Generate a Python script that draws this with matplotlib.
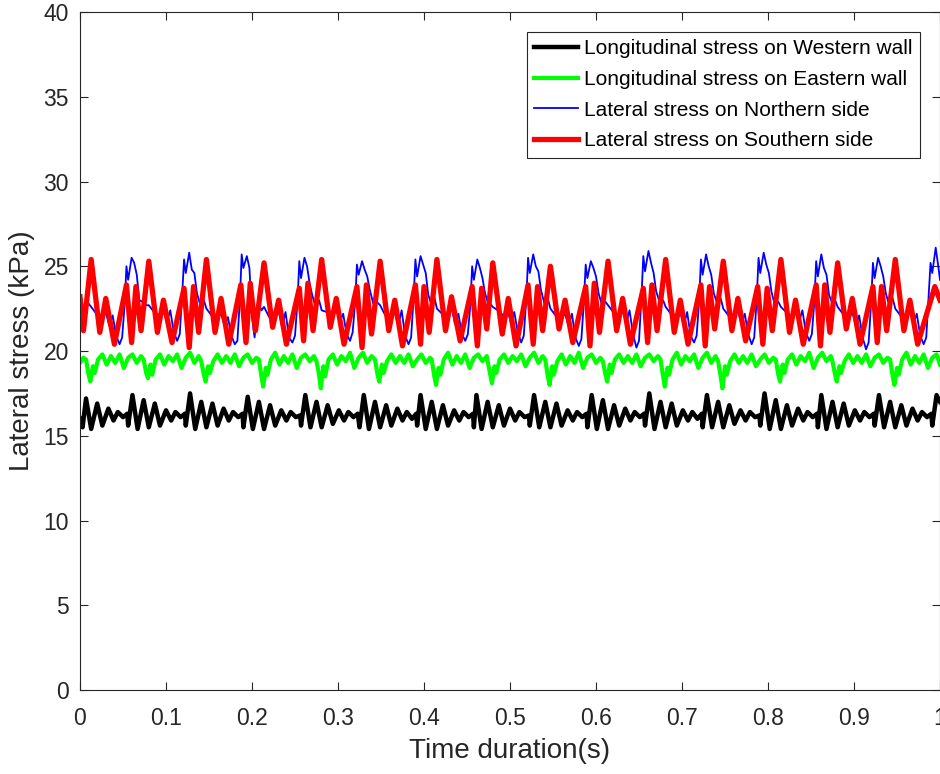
import numpy as np
import matplotlib
matplotlib.use("Agg")
import matplotlib.pyplot as plt

plt.rcParams['font.family'] = ['Liberation Sans', 'DejaVu Sans']

### 0. Data (time in ms, stress in kPa)
black_ms = [0, 3, 7, 13, 20, 26, 33, 39, 44, 50, 55,
            56, 61, 67, 74, 80, 87, 93, 100, 106, 111, 117, 122,
            123, 128, 134, 141, 147, 154, 160, 167, 173, 178, 184, 189,
            190, 195, 201, 208, 214, 221, 227, 234, 240, 245, 251, 256,
            257, 262, 268, 275, 281, 288, 294, 301, 307, 312, 318, 323,
            325, 330, 336, 343, 349, 356, 362, 369, 375, 380, 386, 391,
            392, 396, 402, 409, 415, 422, 428, 435, 441, 446, 452, 457,
            458, 461, 467, 474, 480, 487, 493, 500, 506, 511, 517, 522,
            523, 528, 534, 541, 547, 554, 560, 567, 573, 578, 584, 589,
            590, 595, 601, 608, 614, 621, 627, 634, 640, 645, 651, 656,
            657, 662, 668, 675, 681, 688, 694, 701, 707, 712, 718, 723,
            724, 729, 735, 742, 748, 755, 761, 768, 774, 779, 785, 790,
            791, 796, 802, 809, 815, 822, 828, 835, 841, 846, 852, 857,
            858, 862, 868, 875, 881, 888, 894, 901, 907, 912, 918, 923,
            924, 929, 935, 942, 948, 955, 961, 968, 974, 979, 985, 990,
            991, 996, 1000]
black_kpa = [16.0, 15.5, 17.2, 15.4, 16.9, 15.6, 16.6, 15.9, 16.4, 16.1, 16.3,
             15.6, 17.4, 15.4, 17.1, 15.5, 16.9, 15.6, 16.5, 15.9, 16.4, 16.1, 16.3,
             15.6, 17.5, 15.4, 17.0, 15.5, 16.9, 15.6, 16.6, 15.9, 16.4, 16.1, 16.3,
             15.5, 17.3, 15.4, 17.0, 15.4, 16.8, 15.6, 16.5, 15.9, 16.4, 16.1, 16.2,
             15.6, 17.4, 15.5, 17.0, 15.5, 16.8, 15.7, 16.5, 15.9, 16.4, 16.1, 16.3,
             15.5, 17.4, 15.4, 17.0, 15.5, 16.8, 15.6, 16.6, 15.9, 16.4, 16.0, 16.3,
             15.6, 17.4, 15.4, 17.0, 15.4, 16.8, 15.6, 16.5, 15.9, 16.4, 16.1, 16.3,
             15.5, 17.4, 15.4, 17.0, 15.5, 16.8, 15.6, 16.6, 15.9, 16.4, 16.1, 16.2,
             15.6, 17.4, 15.5, 17.0, 15.5, 16.9, 15.6, 16.5, 15.9, 16.4, 16.1, 16.3,
             15.5, 17.4, 15.4, 17.1, 15.4, 16.8, 15.6, 16.6, 15.9, 16.4, 16.1, 16.3,
             15.6, 17.5, 15.4, 17.0, 15.5, 16.9, 15.6, 16.5, 15.9, 16.4, 16.0, 16.3,
             15.5, 17.4, 15.5, 17.0, 15.5, 16.8, 15.7, 16.5, 15.9, 16.4, 16.1, 16.2,
             15.6, 17.5, 15.4, 17.1, 15.4, 16.8, 15.6, 16.6, 15.9, 16.4, 16.1, 16.3,
             15.5, 17.4, 15.4, 17.0, 15.5, 16.9, 15.6, 16.5, 15.9, 16.4, 16.1, 16.3,
             15.6, 17.4, 15.5, 17.0, 15.5, 16.8, 15.6, 16.6, 15.9, 16.4, 16.1, 16.3,
             15.6, 17.4, 17.0]

green_ms = [0, 4,
            7, 10, 12, 15, 17, 21, 26, 31, 36, 41, 46, 51, 56, 61, 66, 71,
            74, 77, 79, 82, 84, 88, 93, 98, 103, 108, 113, 118, 123, 128, 133, 138,
            141, 144, 146, 149, 151, 155, 160, 165, 170, 175, 180, 185, 190, 195, 200, 205,
            208, 211, 213, 216, 218, 222, 227, 232, 237, 242, 247, 252, 257, 262, 267, 272,
            275, 278, 280, 283, 285, 289, 294, 299, 304, 309, 314, 319, 324, 329, 334, 339,
            343, 346, 348, 351, 353, 357, 362, 367, 372, 377, 382, 387, 392, 397, 402, 407,
            409, 412, 414, 417, 419, 423, 428, 433, 438, 443, 448, 453, 458, 463, 468, 473,
            474, 477, 479, 482, 484, 488, 493, 498, 503, 508, 513, 518, 523, 528, 533, 538,
            541, 544, 546, 549, 551, 555, 560, 565, 570, 575, 580, 585, 590, 595, 600, 605,
            608, 611, 613, 616, 618, 622, 627, 632, 637, 642, 647, 652, 657, 662, 667, 672,
            675, 678, 680, 683, 685, 689, 694, 699, 704, 709, 714, 719, 724, 729, 734, 739,
            742, 745, 747, 750, 752, 756, 761, 766, 771, 776, 781, 786, 791, 796, 801, 806,
            809, 812, 814, 817, 819, 823, 828, 833, 838, 843, 848, 853, 858, 863, 868, 873,
            875, 878, 880, 883, 885, 889, 894, 899, 904, 909, 914, 919, 924, 929, 934, 939,
            942, 945, 947, 950, 952, 956, 961, 966, 971, 976, 981, 986, 991, 996, 1000]
green_kpa = [19.3, 19.6,
             19.5, 18.6, 18.2, 19.1, 18.7, 19.5, 19.8, 19.2, 19.7, 19.3, 19.8, 19.0, 19.6, 19.8, 19.3, 19.7,
             19.5, 18.7, 18.4, 19.2, 18.6, 19.5, 19.8, 19.2, 19.7, 19.4, 19.8, 19.0, 19.6, 19.9, 19.3, 19.7,
             19.4, 18.6, 18.2, 19.1, 18.7, 19.4, 19.8, 19.3, 19.7, 19.3, 19.8, 19.1, 19.6, 19.8, 19.3, 19.6,
             19.5, 18.5, 17.9, 19.0, 18.6, 19.5, 19.9, 19.2, 19.7, 19.3, 19.8, 19.0, 19.6, 19.8, 19.4, 19.7,
             19.4, 18.6, 17.8, 19.1, 18.5, 19.5, 19.8, 19.2, 19.7, 19.4, 19.9, 19.0, 19.6, 19.9, 19.3, 19.7,
             19.5, 18.6, 18.2, 19.2, 18.7, 19.4, 19.8, 19.3, 19.7, 19.3, 19.8, 19.1, 19.5, 19.8, 19.3, 19.6,
             19.5, 18.5, 18.0, 19.0, 18.6, 19.5, 19.9, 19.2, 19.7, 19.3, 19.8, 19.0, 19.6, 19.8, 19.4, 19.7,
             19.4, 18.6, 18.1, 19.1, 18.7, 19.5, 19.8, 19.3, 19.7, 19.4, 19.8, 19.1, 19.6, 19.9, 19.3, 19.7,
             19.5, 18.5, 18.0, 19.1, 18.6, 19.4, 19.8, 19.2, 19.7, 19.3, 19.9, 19.0, 19.6, 19.8, 19.3, 19.6,
             19.4, 18.6, 18.2, 19.2, 18.7, 19.5, 19.8, 19.3, 19.7, 19.3, 19.8, 19.1, 19.6, 19.8, 19.4, 19.7,
             19.5, 18.5, 17.9, 19.0, 18.6, 19.5, 19.9, 19.2, 19.7, 19.4, 19.8, 19.0, 19.6, 19.9, 19.3, 19.7,
             19.4, 18.5, 17.8, 19.1, 18.6, 19.4, 19.8, 19.3, 19.7, 19.3, 19.8, 19.1, 19.5, 19.8, 19.3, 19.6,
             19.5, 18.6, 18.2, 19.2, 18.7, 19.5, 19.8, 19.2, 19.7, 19.4, 19.9, 19.0, 19.6, 19.9, 19.4, 19.7,
             19.4, 18.6, 18.2, 19.1, 18.7, 19.4, 19.8, 19.3, 19.7, 19.3, 19.8, 19.1, 19.6, 19.8, 19.3, 19.6,
             19.5, 18.5, 18.0, 19.0, 18.6, 19.5, 19.9, 19.2, 19.7, 19.3, 19.8, 19.0, 19.6, 19.8, 19.2]

blue_ms = [0, 3, 7,
           13, 19, 25, 30, 34, 38, 42, 46, 49, 52, 54, 56, 60, 63, 66, 69, 73, 77,
           80, 86, 92, 97, 101, 105, 109, 113, 116, 119, 121, 123, 127, 130, 133, 136, 140, 144,
           147, 153, 159, 164, 168, 172, 176, 180, 183, 186, 188, 190, 194, 197, 200, 203, 207, 211,
           214, 220, 226, 231, 235, 239, 243, 247, 250, 253, 255, 257, 261, 264, 267, 270, 274, 278,
           281, 287, 293, 298, 302, 306, 310, 314, 317, 320, 322, 324, 328, 331, 334, 337, 341, 345,
           349, 355, 361, 366, 370, 374, 378, 382, 385, 388, 390, 392, 396, 399, 402, 405, 409, 412,
           415, 421, 427, 432, 436, 440, 444, 448, 451, 454, 456, 458, 462, 465, 468, 471, 474, 477,
           480, 486, 492, 497, 501, 505, 509, 513, 516, 519, 521, 523, 527, 530, 533, 536, 540, 544,
           547, 553, 559, 564, 568, 572, 576, 580, 583, 586, 588, 590, 594, 597, 600, 603, 607, 611,
           614, 620, 626, 631, 635, 639, 643, 647, 650, 653, 655, 657, 661, 664, 667, 670, 674, 678,
           681, 687, 693, 698, 702, 706, 710, 714, 717, 720, 722, 724, 728, 731, 734, 737, 741, 745,
           748, 754, 760, 765, 769, 773, 777, 781, 784, 787, 789, 791, 795, 798, 801, 804, 808, 812,
           815, 821, 827, 832, 836, 840, 844, 848, 851, 854, 856, 858, 862, 865, 868, 871, 875, 878,
           881, 887, 893, 898, 902, 906, 910, 914, 917, 920, 922, 924, 928, 931, 934, 937, 941, 945,
           948, 954, 960, 965, 969, 973, 977, 981, 984, 987, 989, 991, 995, 998, 1000]
blue_kpa = [22.8, 22.4, 23.0,
            22.6, 22.2, 21.8, 22.3, 21.5, 22.1, 20.9, 20.4, 20.8, 22.8, 25.0, 24.2, 25.5, 25.2, 24.5, 23.0, 22.9, 22.7,
            22.7, 22.3, 22.1, 22.5, 21.7, 22.4, 21.1, 20.6, 21.0, 23.5, 25.4, 24.6, 25.8, 24.8, 24.6, 23.4, 22.7, 23.0,
            22.5, 22.1, 21.9, 22.2, 21.5, 22.0, 20.9, 20.4, 20.6, 23.1, 25.7, 24.9, 25.6, 24.9, 22.0, 20.8, 22.9, 22.4,
            22.6, 22.0, 22.2, 22.4, 21.4, 22.3, 20.8, 20.5, 20.9, 23.0, 25.3, 24.3, 25.5, 25.0, 24.0, 23.3, 22.6, 23.0,
            22.4, 22.3, 21.9, 22.5, 21.7, 22.2, 21.0, 20.6, 21.1, 22.9, 25.1, 24.5, 25.3, 24.8, 24.4, 23.6, 22.8, 22.9,
            22.7, 22.1, 22.0, 22.3, 21.5, 22.4, 20.9, 20.4, 20.8, 23.2, 25.4, 24.4, 25.6, 25.1, 24.6, 23.3, 22.7, 23.2,
            22.5, 22.2, 21.8, 22.6, 21.6, 22.2, 21.0, 20.6, 21.0, 22.8, 25.0, 24.2, 25.4, 24.9, 24.3, 23.4, 22.9, 22.8,
            22.6, 22.4, 22.1, 22.4, 21.7, 22.3, 21.1, 20.5, 20.9, 23.1, 25.5, 24.6, 25.7, 25.0, 24.7, 23.6, 22.8, 23.1,
            22.5, 22.1, 21.9, 22.2, 21.5, 22.2, 20.8, 20.3, 20.7, 23.0, 25.1, 24.3, 25.3, 24.9, 24.4, 23.4, 22.7, 22.9,
            22.7, 22.3, 22.0, 22.5, 21.6, 22.4, 21.0, 20.2, 20.6, 23.3, 25.6, 24.7, 25.9, 25.2, 24.6, 23.5, 22.9, 23.0,
            22.6, 22.2, 22.1, 22.3, 21.5, 22.3, 20.9, 20.5, 20.9, 23.0, 25.4, 24.5, 25.7, 25.0, 24.5, 23.4, 22.8, 23.1,
            22.5, 22.1, 21.9, 22.4, 21.6, 22.2, 21.0, 20.4, 20.8, 23.2, 25.5, 24.6, 25.8, 25.1, 24.6, 23.5, 22.7, 22.9,
            22.6, 22.3, 22.0, 22.5, 21.7, 22.4, 21.1, 20.6, 21.0, 23.0, 25.3, 24.4, 25.7, 24.9, 24.5, 23.3, 22.8, 23.0,
            22.6, 22.2, 21.8, 22.3, 21.5, 22.1, 20.8, 20.1, 20.5, 22.9, 25.2, 24.3, 25.5, 25.0, 24.4, 23.4, 22.7, 23.1,
            22.5, 22.1, 21.9, 22.4, 21.6, 22.2, 20.9, 20.4, 20.8, 23.4, 25.2, 24.6, 26.1, 25.0, 24.2]

red_ms = [0, 4, 13, 23, 30, 40, 54, 60, 65, 71,
          80, 90, 97, 107, 121, 127, 132, 138,
          147, 157, 164, 173, 187, 193, 198, 204,
          214, 224, 231, 240, 255, 260, 265, 271,
          281, 291, 298, 307, 322, 328, 333, 339,
          349, 359, 366, 375, 390, 396, 400, 406,
          415, 425, 432, 442, 456, 462, 467, 473,
          480, 491, 498, 507, 521, 527, 532, 538,
          547, 557, 564, 573, 588, 593, 598, 604,
          614, 624, 631, 640, 655, 660, 665, 671,
          681, 691, 698, 707, 722, 727, 732, 738,
          748, 758, 765, 774, 788, 794, 799, 805,
          815, 825, 832, 841, 856, 861, 866, 872,
          881, 891, 898, 907, 922, 927, 932, 938,
          948, 958, 965, 974, 994, 1000]
red_kpa = [23.2, 21.2, 25.4, 21.1, 23.1, 20.4, 23.9, 20.5, 23.8, 21.2,
           25.3, 21.1, 23.0, 20.5, 23.7, 20.2, 23.8, 21.1,
           25.4, 21.1, 23.1, 20.4, 23.9, 20.5, 24.0, 21.2,
           25.2, 21.4, 23.0, 20.4, 23.7, 20.6, 24.0, 21.2,
           25.4, 21.4, 23.1, 20.4, 23.8, 20.2, 23.9, 21.0,
           25.3, 21.2, 23.0, 20.3, 23.9, 20.4, 23.8, 21.1,
           25.4, 21.2, 23.2, 20.6, 23.8, 20.3, 23.7, 21.3,
           25.2, 21.0, 23.1, 20.3, 23.9, 20.4, 23.8, 21.2,
           25.0, 21.3, 23.0, 20.5, 23.8, 20.3, 24.0, 21.1,
           25.3, 21.2, 23.1, 20.4, 23.7, 20.5, 23.9, 21.2,
           25.4, 21.1, 23.0, 20.4, 23.9, 20.3, 23.8, 21.3,
           25.3, 21.2, 23.1, 20.6, 23.8, 20.4, 23.7, 21.2,
           25.4, 21.1, 23.0, 20.4, 23.9, 20.3, 23.9, 21.1,
           25.2, 21.3, 23.1, 20.4, 23.8, 20.5, 23.8, 21.2,
           25.4, 21.2, 23.0, 20.4, 23.8, 23.0]

labels = ['Longitudinal stress on Western wall',
          'Longitudinal stress on Eastern wall',
          'Lateral stress on Northern side',
          'Lateral stress on Southern side']

### 1. Plot
fig = plt.figure(figsize=(9.4, 7.74), dpi=100)
ax = fig.add_axes([0.0851, 0.1085, 0.9149, 0.876])

ax.plot(np.array(black_ms) / 1000, black_kpa, color='k', lw=3.2, label=labels[0])
ax.plot(np.array(green_ms) / 1000, green_kpa, color=(0, 1, 0), lw=3.0, label=labels[1])
ax.plot(np.array(blue_ms) / 1000, blue_kpa, color='b', lw=1.3, label=labels[2])
ax.plot(np.array(red_ms) / 1000, red_kpa, color='r', lw=3.8, label=labels[3])

ax.set_xlim(0, 1)
ax.set_ylim(0, 40)
ax.set_xticks(np.arange(0, 1.01, 0.1))
ax.set_xticklabels(['0', '0.1', '0.2', '0.3', '0.4', '0.5', '0.6', '0.7', '0.8', '0.9', '1'])
ax.set_yticks(np.arange(0, 41, 5))
ax.tick_params(direction='in', top=True, right=True, length=6, width=0.8,
               labelsize=16.5, colors='#262626', pad=8)
ax.tick_params(axis='x', pad=12)
for s in ax.spines.values():
    s.set_color('#262626')
    s.set_linewidth(0.8)

ax.set_xlabel('Time duration(s)', fontsize=20, color='#262626', labelpad=6)
ax.set_ylabel('Lateral stress (kPa)', fontsize=20, color='#262626', labelpad=6)

leg = ax.legend(loc='upper right', bbox_to_anchor=(0.9767, 0.9705), borderaxespad=0,
                fontsize=15, fancybox=False, framealpha=1, edgecolor='#262626',
                handlelength=2.1, handletextpad=0.3, labelspacing=0.56, borderpad=0.35)
leg.get_frame().set_linewidth(0.8)

fig.savefig('out.png', dpi=100)
